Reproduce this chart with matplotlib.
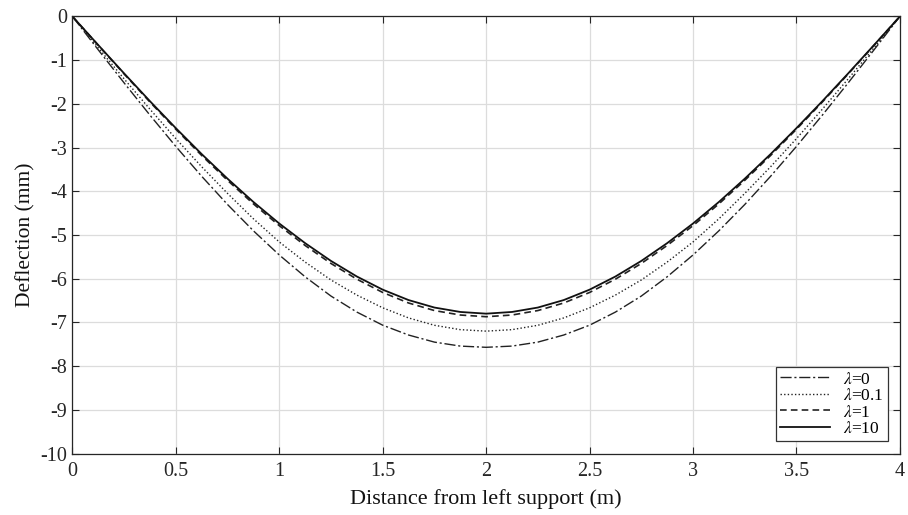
import matplotlib
matplotlib.use("Agg")
import matplotlib.pyplot as plt

plt.rcParams['font.family'] = ['Liberation Serif', 'DejaVu Serif']
plt.rcParams['mathtext.fontset'] = 'stix'

x = [0, 0.125, 0.25, 0.375, 0.5, 0.625, 0.75, 0.875, 1.0, 1.125, 1.25, 1.375, 1.5, 1.625, 1.75, 1.875,
     2.0, 2.125, 2.25, 2.375, 2.5, 2.625, 2.75, 2.875, 3.0, 3.125, 3.25, 3.375, 3.5, 3.625, 3.75, 3.875, 4.0]
w_l0 = [0, -0.765, -1.521, -2.260, -2.975, -3.658, -4.304, -4.905, -5.458, -5.957, -6.398, -6.764, -7.064,
        -7.289, -7.451, -7.542, -7.570, -7.542, -7.451, -7.289, -7.064, -6.764, -6.398, -5.957, -5.458,
        -4.905, -4.304, -3.658, -2.975, -2.260, -1.521, -0.765, 0]
w_l01 = [0, -0.719, -1.429, -2.124, -2.796, -3.440, -4.050, -4.630, -5.160, -5.620, -6.030, -6.375, -6.666,
         -6.898, -7.066, -7.166, -7.200, -7.166, -7.066, -6.898, -6.666, -6.375, -6.030, -5.620, -5.160,
         -4.630, -4.050, -3.440, -2.796, -2.124, -1.429, -0.719, 0]
w_l1 = [0, -0.662, -1.317, -1.960, -2.582, -3.182, -3.751, -4.289, -4.787, -5.240, -5.652, -6.011, -6.315,
        -6.556, -6.729, -6.831, -6.870, -6.831, -6.729, -6.556, -6.315, -6.011, -5.652, -5.240, -4.787,
        -4.289, -3.751, -3.182, -2.582, -1.960, -1.317, -0.662, 0]
w_l10 = [0, -0.655, -1.304, -1.940, -2.556, -3.150, -3.713, -4.245, -4.738, -5.187, -5.594, -5.950, -6.251,
         -6.489, -6.660, -6.761, -6.800, -6.761, -6.660, -6.489, -6.251, -5.950, -5.594, -5.187, -4.738,
         -4.245, -3.713, -3.150, -2.556, -1.940, -1.304, -0.655, 0]
labels = [r'$\lambda$=0', r'$\lambda$=0.1', r'$\lambda$=1', r'$\lambda$=10']
xticks = [0, 0.5, 1, 1.5, 2, 2.5, 3, 3.5, 4]
xticklabels = ['0', '0.5', '1', '1.5', '2', '2.5', '3', '3.5', '4']
yticks = list(range(-10, 1))

fig = plt.figure(figsize=(9.08, 5.15), dpi=100)
ax = fig.add_axes([0.0798, 0.1194, 0.9112, 0.8486])

ax.plot(x, w_l0, color='#222222', lw=1.0, linestyle=(0, (8, 2, 1.5, 2)), label=labels[0])
ax.plot(x, w_l01, color='#222222', lw=1.0, linestyle=(0, (1, 1.6)), label=labels[1])
ax.plot(x, w_l1, color='#222222', lw=1.2, linestyle=(0, (4, 2.5)), label=labels[2])
ax.plot(x, w_l10, color='#111111', lw=1.3, linestyle='-', label=labels[3])

ax.set_xlim(0, 4)
ax.set_ylim(-10, 0)
ax.set_xticks(xticks)
ax.set_xticklabels(xticklabels)
ax.set_yticks(yticks)
ax.set_yticklabels([str(v) for v in yticks])
ax.grid(True, color='#dcdcdc', lw=0.9)
ax.set_axisbelow(True)
ax.tick_params(direction='in', length=5, width=0.8, top=True, right=True,
               labelsize=14.5, colors='#262626', pad=4)
ax.tick_params(axis='x', pad=6)
for s in ax.spines.values():
    s.set_color('#262626')
    s.set_linewidth(0.9)

ax.set_xlabel('Distance from left support (m)', fontsize=16, color='#111111', labelpad=6)
ax.set_ylabel('Deflection (mm)', fontsize=15.5, color='#111111', labelpad=3)

leg = ax.legend(loc='lower right', fontsize=12.5, fancybox=False, framealpha=1,
                edgecolor='#333333', handlelength=2.9, borderpad=0.25,
                labelspacing=0.02, handletextpad=0.7, borderaxespad=0.7)
leg.get_frame().set_linewidth(0.9)

fig.savefig('out.png', dpi=100)
